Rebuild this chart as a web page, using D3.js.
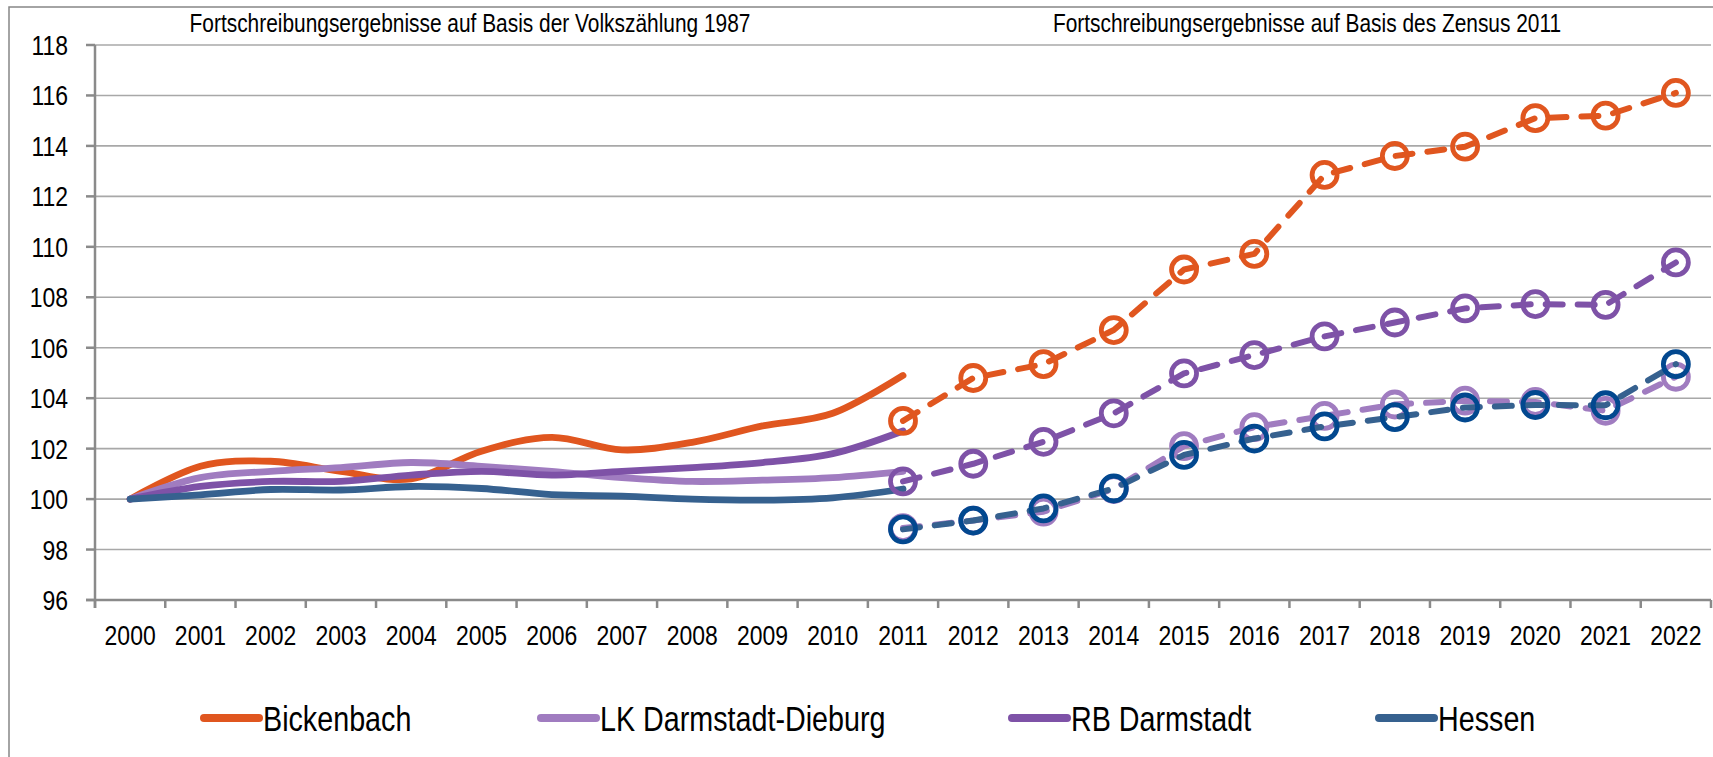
<!DOCTYPE html>
<html>
<head>
<meta charset="utf-8">
<script src="https://cdn.jsdelivr.net/npm/d3@7"></script>
<style>
  html, body { margin: 0; padding: 0; background: #fff; }
  svg { display: block; }
  text { font-family: "Liberation Sans", Arial, sans-serif; fill: #000; }
</style>
</head>
<body>
<svg id="chart" width="1713" height="757"></svg>
<script>
// Categories on the x axis
const years = ["2000","2001","2002","2003","2004","2005","2006","2007","2008","2009","2010","2011",
               "2012","2013","2014","2015","2016","2017","2018","2019","2020","2021","2022"];

// Update results based on the 1987 census (2000 = 100)
const yearsVZ = ["2000","2001","2002","2003","2004","2005","2006","2007","2008","2009","2010","2011"];
const bickenbachVZ = [100, 101.3, 101.5, 101.1, 100.8, 101.9, 102.45, 101.95, 102.25, 102.9, 103.4, 104.9];
const lkVZ         = [100, 100.85, 101.1, 101.25, 101.45, 101.3, 101.1, 100.85, 100.7, 100.75, 100.85, 101.1];
const rbVZ         = [100, 100.5, 100.7, 100.7, 100.95, 101.1, 100.95, 101.1, 101.25, 101.45, 101.8, 102.7];
const hessenVZ     = [100, 100.17, 100.38, 100.36, 100.5, 100.42, 100.18, 100.12, 100.0, 99.96, 100.05, 100.4];

// Update results based on the 2011 census
const yearsZ = ["2011","2012","2013","2014","2015","2016","2017","2018","2019","2020","2021","2022"];
const bickenbachZ = [103.1, 104.8, 105.35, 106.7, 109.1, 109.72, 112.85, 113.6, 113.97, 115.1, 115.2, 116.1];
const lkZ         = [98.85, 99.15, 99.5, 100.4, 102.1, 102.85, 103.3, 103.75, 103.9, 103.85, 103.5, 104.85];
const rbZ         = [100.7, 101.4, 102.27, 103.4, 104.98, 105.71, 106.45, 107.0, 107.56, 107.73, 107.7, 109.38];
const hessenZ     = [98.8, 99.15, 99.63, 100.42, 101.75, 102.4, 102.88, 103.25, 103.63, 103.73, 103.72, 105.35];

const yTicks = [96, 98, 100, 102, 104, 106, 108, 110, 112, 114, 116, 118];
const seriesNames = ["Bickenbach", "LK Darmstadt-Dieburg", "RB Darmstadt", "Hessen"];
const titles = ["Fortschreibungsergebnisse auf Basis der Volkszählung 1987",
                "Fortschreibungsergebnisse auf Basis des Zensus 2011"];

const colors = {
  "Bickenbach": "#e0561f",
  "LK Darmstadt-Dieburg": "#a07cc0",
  "RB Darmstadt": "#7e52a7",
  "Hessen": "#36618f"
};
const markerColors = {
  "Bickenbach": "#e0561f",
  "LK Darmstadt-Dieburg": "#a07cc0",
  "RB Darmstadt": "#7e52a7",
  "Hessen": "#02488f"
};

const svg = d3.select("#chart");
const NARROW = 0.82;

// Narrow-looking text: horizontally condensed glyphs
function narrowText(parent, x, y, str, size, anchor) {
  const g = parent.append("g").attr("transform", `translate(${x},${y}) scale(${NARROW},1)`);
  g.append("text").attr("text-anchor", anchor).attr("font-size", size).text(str);
  return g;
}

// Outer frame
svg.append("rect")
  .attr("x", 9).attr("y", 7).attr("width", 1720).attr("height", 780)
  .attr("fill", "none").attr("stroke", "#868686").attr("stroke-width", 1.5);

const x = d3.scaleBand().domain(years).range([95, 1711]).padding(0);
const y = d3.scaleLinear().domain([96, 118]).range([600, 45]);
const cx = d => x(d) + x.bandwidth() / 2;

// Gridlines
svg.append("g").selectAll("line").data(yTicks.filter(t => t !== 96)).join("line")
  .attr("x1", 95).attr("x2", 1711)
  .attr("y1", d => y(d)).attr("y2", d => y(d))
  .attr("stroke", "#a8a8a8").attr("stroke-width", 1.6);

// Y axis
const yAxis = svg.append("g");
yAxis.append("line").attr("x1", 95).attr("x2", 95).attr("y1", y(118)).attr("y2", y(96) + 8)
  .attr("stroke", "#8a8a8a").attr("stroke-width", 2.5);
yAxis.selectAll("line.tick").data(yTicks).join("line").attr("class", "tick")
  .attr("x1", 86).attr("x2", 95).attr("y1", d => y(d)).attr("y2", d => y(d))
  .attr("stroke", "#8a8a8a").attr("stroke-width", 2.5);
yTicks.forEach(t => narrowText(yAxis, 68, y(t) + 10, String(t), 28, "end"));

// X axis
const xAxis = svg.append("g");
xAxis.append("line").attr("x1", 86).attr("x2", 1711).attr("y1", y(96)).attr("y2", y(96))
  .attr("stroke", "#8a8a8a").attr("stroke-width", 2.5);
const bounds = years.map(d => x(d)).concat([x(years[years.length - 1]) + x.bandwidth()]);
xAxis.selectAll("line.tick").data(bounds).join("line").attr("class", "tick")
  .attr("x1", d => d).attr("x2", d => d).attr("y1", y(96)).attr("y2", y(96) + 8)
  .attr("stroke", "#8a8a8a").attr("stroke-width", 2.5);
years.forEach(yr => narrowText(xAxis, cx(yr), 645, yr, 28, "middle"));

// Section titles
narrowText(svg, 470, 32, titles[0], 25.5, "middle");
narrowText(svg, 1307, 32, titles[1], 25.5, "middle");

// Solid smoothed lines (1987 census basis)
const smooth = d3.line().x(d => cx(d.year)).y(d => y(d.v)).curve(d3.curveCardinal.tension(0));
const straight = d3.line().x(d => cx(d.year)).y(d => y(d.v));

const vzSeries = [
  ["Bickenbach", bickenbachVZ],
  ["LK Darmstadt-Dieburg", lkVZ],
  ["RB Darmstadt", rbVZ],
  ["Hessen", hessenVZ]
];
const zSeries = [
  ["Bickenbach", bickenbachZ],
  ["LK Darmstadt-Dieburg", lkZ],
  ["RB Darmstadt", rbZ],
  ["Hessen", hessenZ]
];

vzSeries.forEach(([name, vals]) => {
  const pts = vals.map((v, i) => ({ year: yearsVZ[i], v }));
  svg.append("path").datum(pts).attr("d", smooth)
    .attr("fill", "none").attr("stroke", colors[name]).attr("stroke-width", 6.8)
    .attr("stroke-linecap", "round").attr("stroke-linejoin", "round");
});

// Dashed lines with hollow circle markers (2011 census basis)
zSeries.forEach(([name, vals]) => {
  const pts = vals.map((v, i) => ({ year: yearsZ[i], v }));
  const g = svg.append("g");
  g.append("path").datum(pts).attr("d", straight)
    .attr("fill", "none").attr("stroke", colors[name]).attr("stroke-width", 6)
    .attr("stroke-dasharray", "17,15").attr("stroke-linecap", "round").attr("stroke-linejoin", "round");
  g.selectAll("circle").data(pts).join("circle")
    .attr("cx", d => cx(d.year)).attr("cy", d => y(d.v)).attr("r", 12.5)
    .attr("fill", "none").attr("stroke", markerColors[name]).attr("stroke-width", 4.8);
});

// Legend
const legendX = [204, 541, 1012, 1379];
const legend = svg.append("g");
seriesNames.forEach((name, i) => {
  legend.append("line")
    .attr("x1", legendX[i]).attr("x2", legendX[i] + 55).attr("y1", 718).attr("y2", 718)
    .attr("stroke", colors[name]).attr("stroke-width", 8).attr("stroke-linecap", "round");
  narrowText(legend, legendX[i] + 59, 731, name, 35, "start");
});
</script>
</body>
</html>
